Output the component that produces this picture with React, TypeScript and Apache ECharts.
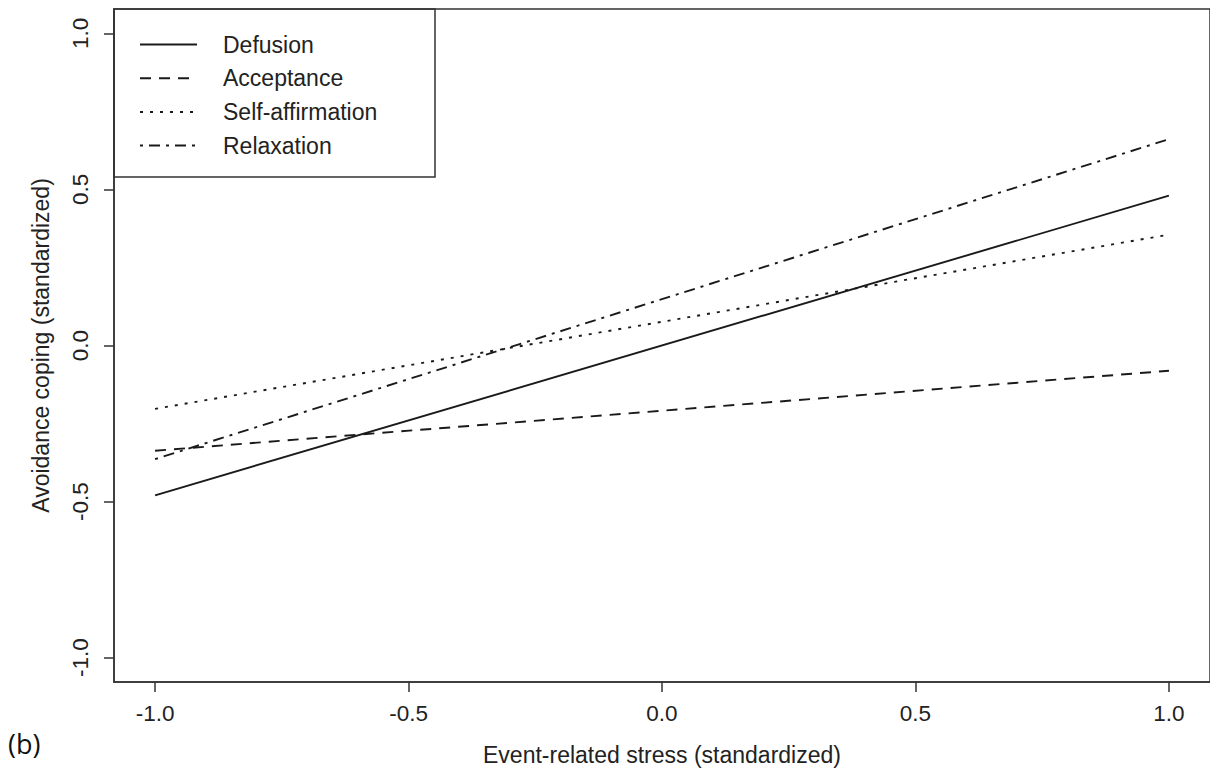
import React, { useEffect, useRef } from "react";
import * as echarts from "echarts";

const xValues = [-1, 1];
const defusion = [-0.48, 0.48];
const acceptance = [-0.337, -0.081];
const selfAffirmation = [-0.203, 0.355];
const relaxation = [-0.364, 0.661];
const seriesNames = ["Defusion", "Acceptance", "Self-affirmation", "Relaxation"];
const tickValues = [-1, -0.5, 0, 0.5, 1];

const FONT = "Liberation Sans, Arial, sans-serif";
const INK = "#222";

export default function App() {
  const ref = useRef<HTMLDivElement>(null);
  useEffect(() => {
    if (!ref.current) return;
    const chart = echarts.init(ref.current, undefined, { renderer: "svg" });
    const pairs = (ys: number[]) => xValues.map((x, i) => [x, ys[i]]);
    const dashes: any[] = ["solid", [11, 8], [3, 7], [3, 6, 11, 6]];
    const allData = [defusion, acceptance, selfAffirmation, relaxation];
    const series = allData.map((ys, i) => ({
      name: seriesNames[i],
      type: "line",
      data: pairs(ys),
      symbol: "none",
      showSymbol: false,
      lineStyle: { color: "#1a1a1a", width: 1.9, type: dashes[i] },
      itemStyle: { color: "#1a1a1a" },
    }));
    const axisCommon = {
      type: "value",
      splitLine: { show: false },
      axisLine: { show: true, onZero: false, lineStyle: { color: "#333", width: 1.5 } },
      axisTick: { show: true, length: 10, lineStyle: { color: "#333", width: 1.5 }, customValues: tickValues },
    };
    chart.setOption({
      animation: false,
      backgroundColor: "#fff",
      textStyle: { fontFamily: FONT },
      grid: {
        left: 114,
        right: -3,
        top: 9,
        bottom: 86,
        show: true,
        borderColor: "#333",
        borderWidth: 1.5,
        containLabel: false,
      },
      xAxis: {
        ...axisCommon,
        min: -1.081,
        max: 1.081,
        axisLabel: {
          customValues: tickValues,
          formatter: (v: number) => v.toFixed(1),
          fontSize: 22.5,
          color: INK,
          margin: 20,
          fontFamily: FONT,
        },
        name: "Event-related stress (standardized)",
        nameLocation: "middle",
        nameGap: 61,
        nameTextStyle: { fontSize: 23, color: INK, fontFamily: FONT },
      },
      yAxis: {
        ...axisCommon,
        min: -1.078,
        max: 1.078,
        axisLabel: {
          customValues: tickValues,
          formatter: (v: number) => v.toFixed(1),
          fontSize: 22.5,
          color: INK,
          rotate: 90,
          margin: 22,
          fontFamily: FONT,
        },
        name: "Avoidance coping (standardized)",
        nameLocation: "middle",
        nameGap: 62,
        nameRotate: 90,
        nameTextStyle: { fontSize: 23, color: INK, fontFamily: FONT },
      },
      legend: {
        show: true,
        orient: "vertical",
        left: 134,
        top: 28,
        itemWidth: 57,
        itemHeight: 22,
        itemGap: 10.7,
        data: seriesNames,
        selectedMode: false,
        itemStyle: { color: "transparent", borderWidth: 0, opacity: 0 },
        textStyle: { fontSize: 23, color: INK, fontFamily: FONT, padding: [0, 0, 0, 21] },
      },
      graphic: [
        {
          type: "rect",
          shape: { x: 114, y: 9, width: 321, height: 168 },
          style: { fill: "none", stroke: "#333", lineWidth: 1.5 },
          z: 1,
        },
        {
          type: "text",
          left: 8,
          top: 730,
          style: { text: "(b)", fontSize: 27, fill: "#111", fontFamily: "Open Sans, Carlito, sans-serif" },
        },
      ],
      series,
    });
    return () => chart.dispose();
  }, []);
  return (
    <div
      ref={ref}
      style={{ position: "absolute", left: 0, top: 0, width: 1210, height: 771 }}
    />
  );
}
